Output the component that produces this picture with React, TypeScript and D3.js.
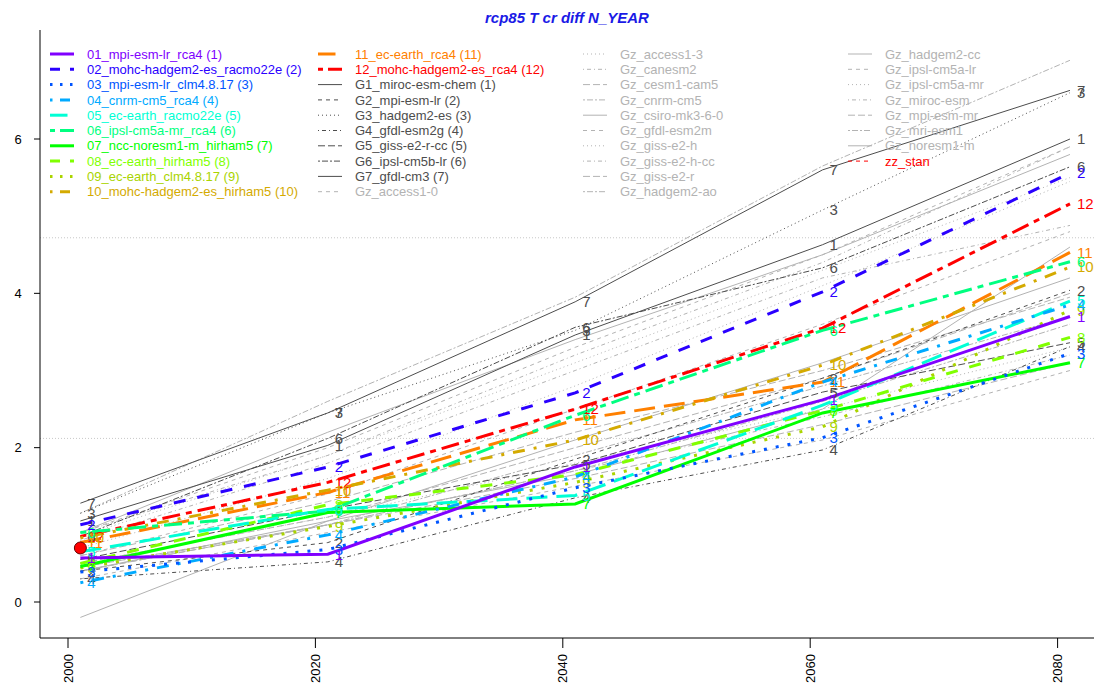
import React from "react";
import * as d3 from "d3";

const years = [2001, 2021, 2041, 2061, 2081];

const rcmNames = [
  "01_mpi-esm-lr_rca4", "02_mohc-hadgem2-es_racmo22e", "03_mpi-esm-lr_clm4.8.17", "04_cnrm-cm5_rca4",
  "05_ec-earth_racmo22e", "06_ipsl-cm5a-mr_rca4", "07_ncc-noresm1-m_hirham5", "08_ec-earth_hirham5",
  "09_ec-earth_clm4.8.17", "10_mohc-hadgem2-es_hirham5", "11_ec-earth_rca4", "12_mohc-hadgem2-es_rca4",
];
const rcmColors = [
  "#8000FF", "#2A00FF", "#0055FF", "#00AAFF", "#00FFD5", "#00FF80",
  "#00FF00", "#80FF00", "#AAD400", "#D4AA00", "#FF8000", "#FF0000",
];
const rcmValues = [
  [0.57, 0.62, 1.75, 2.62, 3.7],
  [1.0, 1.75, 2.71, 4.02, 5.56],
  [0.39, 0.68, 1.48, 2.13, 3.22],
  [0.25, 0.87, 1.62, 2.85, 3.85],
  [0.65, 1.2, 1.38, 2.55, 3.9],
  [0.9, 1.18, 2.42, 3.52, 4.41],
  [0.46, 1.16, 1.27, 2.45, 3.1],
  [0.5, 1.26, 1.65, 2.48, 3.43],
  [0.44, 0.98, 1.55, 2.27, 3.78],
  [0.83, 1.45, 2.1, 3.07, 4.34],
  [0.77, 1.42, 2.36, 2.85, 4.53],
  [0.85, 1.55, 2.5, 3.55, 5.16],
];

const gcmNames = [
  "G1_miroc-esm-chem", "G2_mpi-esm-lr", "G3_hadgem2-es", "G4_gfdl-esm2g",
  "G5_giss-e2-r-cc", "G6_ipsl-cm5b-lr", "G7_gfdl-cm3",
];
const gcmValues = [
  [1.05, 2.03, 3.46, 4.63, 6.0],
  [0.4, 0.77, 1.85, 2.9, 4.04],
  [1.15, 2.45, 3.52, 5.08, 6.6],
  [0.3, 0.52, 1.35, 1.97, 3.31],
  [0.55, 1.2, 1.78, 2.72, 3.36],
  [0.85, 2.12, 3.56, 4.33, 5.64],
  [1.28, 2.45, 3.89, 5.6, 6.63],
];

const gzNames = [
  "Gz_access1-0", "Gz_access1-3", "Gz_canesm2", "Gz_cesm1-cam5", "Gz_cnrm-cm5", "Gz_csiro-mk3-6-0",
  "Gz_gfdl-esm2m", "Gz_giss-e2-h", "Gz_giss-e2-h-cc", "Gz_giss-e2-r", "Gz_hadgem2-ao", "Gz_hadgem2-cc",
  "Gz_ipsl-cm5a-lr", "Gz_ipsl-cm5a-mr", "Gz_miroc-esm", "Gz_mpi-esm-mr", "Gz_mri-esm1", "Gz_noresm1-m",
];
const gzValues = [
  [0.6, 1.4, 2.5, 3.6, 4.8],
  [0.7, 1.6, 2.8, 4.1, 5.45],
  [0.9, 1.9, 3.2, 4.4, 5.9],
  [0.6, 1.3, 2.2, 3.0, 3.95],
  [0.4, 1.0, 1.9, 2.8, 3.7],
  [-0.2, 1.05, 2.1, 3.1, 4.2],
  [0.3, 0.9, 1.5, 2.1, 3.0],
  [0.5, 1.1, 1.8, 2.5, 3.3],
  [0.45, 1.0, 1.7, 2.4, 3.2],
  [0.4, 1.0, 1.6, 2.3, 3.1],
  [1.15, 2.6, 3.95, 5.65, 7.02],
  [0.9, 2.2, 3.4, 4.5, 5.8],
  [0.9, 2.0, 3.3, 4.5, 5.9],
  [0.85, 1.9, 3.1, 4.3, 5.5],
  [0.8, 1.8, 3.0, 4.2, 4.88],
  [0.5, 1.1, 2.0, 2.9, 4.0],
  [0.45, 1.0, 1.7, 2.6, 3.6],
  [0.4, 1.05, 1.65, 2.5, 4.6],
];

const stanName = "zz_stan";
const stanYear = 2001;
const stanValue = 0.7;

const yTicks = [0, 2, 4, 6];
const xTicks = [2000, 2020, 2040, 2060, 2080];
const hLines = [2.12, 4.72];
const title = "rcp85 T cr diff N_YEAR";

// R line types cycling 1..6
const ltyPatterns = [null, [4, 4], [1, 3], [1, 3, 4, 3], [7, 3], [2, 2, 6, 2]];
const dash = (i: number, lwd: number) => {
  const p = ltyPatterns[i % 6];
  return p ? p.map((v) => v * lwd).join(",") : undefined;
};

const G_COL = "#4D4D4D";
const GZ_COL = "#B3B3B3";
const FONT = "Liberation Sans, Arial, sans-serif";

export default function App() {
  const W = 1094, H = 690;
  const left = 40, right = 1110, top = 30, bottom = 638;
  const x = d3.scaleLinear().domain([2000, 2020]).range([68, 315.4]);
  const y = d3.scaleLinear().domain([0, 6]).range([602, 139]);
  const line = d3.line<[number, number]>().x((d) => x(d[0])).y((d) => y(d[1]));
  const pts = (vals: number[]) => vals.map((v, i) => [years[i], v] as [number, number]);

  type S = { name: string; label: string; vals: number[]; color: string; lwd: number; idx: number; textColor: string; num?: string };
  const series: S[] = [];
  rcmNames.forEach((n, i) => series.push({ name: n, label: `${n} (${i + 1})`, vals: rcmValues[i], color: rcmColors[i], lwd: 3, idx: i, textColor: rcmColors[i], num: String(i + 1) }));
  gcmNames.forEach((n, i) => series.push({ name: n, label: `${n} (${i + 1})`, vals: gcmValues[i], color: G_COL, lwd: 1, idx: 12 + i, textColor: G_COL, num: String(i + 1) }));
  gzNames.forEach((n, i) => series.push({ name: n, label: n, vals: gzValues[i], color: GZ_COL, lwd: 1, idx: 19 + i, textColor: GZ_COL }));

  const legendItems = [...series.map((s) => ({ label: s.label, color: s.color, lwd: s.lwd, idx: s.idx, textColor: s.textColor })),
    { label: stanName, color: "#FF0000", lwd: 1, idx: 37, textColor: "#FF0000" }];
  const colX = [50, 318, 583, 848];
  const rowY0 = 54, rowH = 15.3;

  const drawOrder = [...series].reverse();

  return (
    <svg width={W} height={H} style={{ position: "absolute", left: 0, top: 0, background: "#fff" }} fontFamily={FONT}>
      <rect x={0} y={0} width={W} height={H} fill="#fff" />
      <text x={567} y={23} textAnchor="middle" fontSize={15} fontWeight="bold" fontStyle="italic" fill="#1A1AE6">{title}</text>
      {hLines.map((v) => (
        <line key={v} x1={left} x2={right} y1={y(v)} y2={y(v)} stroke="#C8C8C8" strokeDasharray="1,2" />
      ))}
      {drawOrder.map((s) => (
        <path key={s.name} d={line(pts(s.vals)) || ""} fill="none" stroke={s.color} strokeWidth={s.lwd} strokeDasharray={dash(s.idx, s.lwd)} />
      ))}
      {drawOrder.filter((s) => s.num).map((s) => s.vals.map((v, i) => (
        <text key={s.name + i} x={x(years[i]) + 7} y={y(v)} dy="0.36em" fontSize={15} fill={s.textColor}>{s.num}</text>
      )))}
      <circle cx={x(stanYear)} cy={y(stanValue)} r={6} fill="#FF0000" stroke="#600" strokeWidth={1} />
      {legendItems.map((it, k) => {
        const c = Math.floor(k / 10), r = k % 10;
        const lx = colX[c], ly = rowY0 + r * rowH;
        return (
          <g key={it.label}>
            <line x1={lx} x2={lx + 24} y1={ly} y2={ly} stroke={it.color} strokeWidth={it.lwd === 3 ? 3 : 1} strokeDasharray={dash(it.idx, it.lwd === 3 ? 2.5 : 1)} />
            <text x={lx + 37} y={ly} dy="0.36em" fontSize={13} fill={it.textColor}>{it.label}</text>
          </g>
        );
      })}
      <line x1={left} x2={left} y1={top} y2={bottom} stroke="#000" />
      <line x1={left} x2={right} y1={bottom} y2={bottom} stroke="#000" />
      {yTicks.map((t) => (
        <g key={t}>
          <line x1={left - 6} x2={left} y1={y(t)} y2={y(t)} stroke="#000" />
          <text x={18} y={y(t)} dy="0.36em" textAnchor="middle" fontSize={13} fill="#000">{t}</text>
        </g>
      ))}
      {xTicks.map((t) => (
        <g key={t}>
          <line x1={x(t)} x2={x(t)} y1={bottom} y2={bottom + 10} stroke="#000" />
          <text transform={`translate(${x(t)},${bottom + 16}) rotate(-90)`} textAnchor="end" dy="0.36em" fontSize={13} fill="#000">{t}</text>
        </g>
      ))}
    </svg>
  );
}
